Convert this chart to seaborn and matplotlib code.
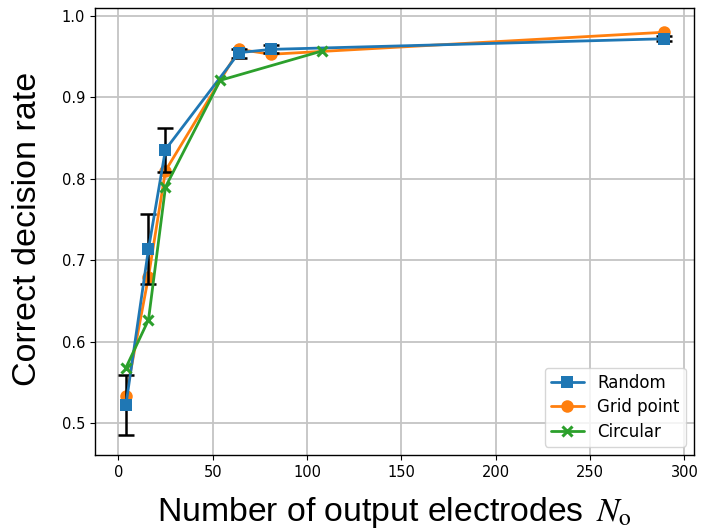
import numpy as np
import pandas as pd
import matplotlib
matplotlib.use("Agg")
import matplotlib.pyplot as plt
import seaborn as sns

# Data
random_x = [4, 16, 25, 64, 81, 289]
random_y = [0.522, 0.714, 0.836, 0.955, 0.959, 0.972]
random_lo = [0.485, 0.671, 0.809, 0.949, 0.954, 0.969]
random_hi = [0.559, 0.757, 0.862, 0.960, 0.964, 0.975]

grid_x = [4, 16, 25, 64, 81, 289]
grid_y = [0.533, 0.680, 0.810, 0.959, 0.953, 0.980]

circ_x = [4, 16, 25, 54, 108]
circ_y = [0.568, 0.627, 0.790, 0.921, 0.957]

labels = ["Random", "Grid point", "Circular"]
xlabel = r"Number of output electrodes $\,N_\mathrm{o}$"
ylabel = "Correct decision rate"

sns.set_style("ticks", {"axes.grid": True, "grid.color": "#c4c4c4",
                        "axes.edgecolor": "black", "xtick.color": "black",
                        "ytick.color": "black", "text.color": "black",
                        "axes.labelcolor": "black"})
plt.rcParams["mathtext.fontset"] = "stix"
plt.rcParams["font.family"] = ["DejaVu Sans"]

fig = plt.figure(figsize=(7.01, 5.31), dpi=100)
ax = fig.add_axes([95/701, 1-455/531, (694-95)/701, (455-8)/531])

c_blue, c_orange, c_green = "#1f77b4", "#ff7f0e", "#2ca02c"

sns.lineplot(x=grid_x, y=grid_y, ax=ax, color=c_orange, marker="o",
             markersize=9, markeredgewidth=0, linewidth=2, label=labels[1],
             zorder=2, sort=False)
ax.errorbar(random_x, random_y,
            yerr=[np.array(random_y) - np.array(random_lo),
                  np.array(random_hi) - np.array(random_y)],
            fmt="none", ecolor="black", elinewidth=1.8, capsize=6,
            capthick=1.8, zorder=2.2)
sns.lineplot(x=random_x, y=random_y, ax=ax, color=c_blue, marker="s",
             markersize=8, markeredgewidth=0, linewidth=2, label=labels[0],
             zorder=2.5, sort=False)
sns.lineplot(x=circ_x, y=circ_y, ax=ax, color=c_green, marker="x",
             markersize=7, markeredgewidth=2.2, markeredgecolor=c_green,
             linewidth=2, label=labels[2], zorder=2.6, sort=False)

ax.set_xlim(-12.35, 305.1)
ax.set_ylim(0.461, 1.0098)
ax.set_xticks([0, 50, 100, 150, 200, 250, 300])
ax.set_yticks([0.5, 0.6, 0.7, 0.8, 0.9, 1.0])
ax.tick_params(labelsize=10.5, direction="out", length=3.5, width=0.8,
               labelcolor="black")
for s in ax.spines.values():
    s.set_visible(True)
    s.set_linewidth(1.0)
ax.grid(True, color="#c4c4c4", linewidth=1.3)

ax.set_xlabel(xlabel, fontsize=24.3, family=["Liberation Sans"], labelpad=11,
              color="black")
ax.set_ylabel(ylabel, fontsize=24.5, family=["Liberation Sans"],
              color="black")
ax.yaxis.set_label_coords(-0.087, 0.505)

h, l = ax.get_legend_handles_labels()
order = [l.index(x) for x in labels]
leg = ax.legend([h[i] for i in order], [l[i] for i in order], loc="lower right",
                fontsize=12, frameon=True, labelspacing=0.4, borderpad=0.35)
for t in leg.get_texts():
    t.set_color("black")

fig.savefig("out.png", dpi=100)
